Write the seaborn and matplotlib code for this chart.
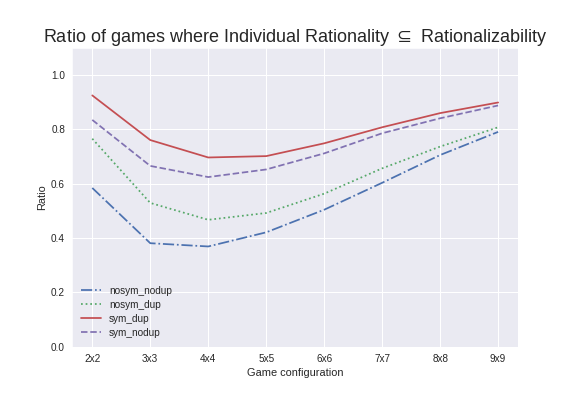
import matplotlib
matplotlib.use("Agg")
import matplotlib.pyplot as plt
import seaborn as sns
import pandas as pd

# game sizes on the x axis
configs = ["2x2", "3x3", "4x4", "5x5", "6x6", "7x7", "8x8", "9x9"]

# ratio per configuration
nosym_nodup = [0.584, 0.381, 0.369, 0.421, 0.504, 0.603, 0.705, 0.790]
nosym_dup = [0.765, 0.529, 0.467, 0.492, 0.563, 0.656, 0.736, 0.807]
sym_dup = [0.924, 0.760, 0.696, 0.701, 0.748, 0.807, 0.859, 0.898]
sym_nodup = [0.834, 0.665, 0.624, 0.652, 0.711, 0.785, 0.840, 0.887]

series_names = ["nosym_nodup", "nosym_dup", "sym_dup", "sym_nodup"]
series_values = [nosym_nodup, nosym_dup, sym_dup, sym_nodup]
colors = ["#4C72B0", "#55A868", "#C44E52", "#8172B2"]
styles = ["-.", ":", "-", "--"]

sns.set_style("darkgrid")
plt.rcParams["font.family"] = ["Liberation Sans", "DejaVu Sans"]
plt.rcParams["grid.linewidth"] = 1.0

rows = []
for name, vals in zip(series_names, series_values):
    for i, v in enumerate(vals):
        rows.append({"pos": i, "config": configs[i], "ratio": v, "series": name})
df = pd.DataFrame(rows)

fig, ax = plt.subplots(figsize=(8, 5.5), dpi=72)
fig.subplots_adjust(left=0.125, right=0.9, bottom=0.124, top=0.88)

for name, color, ls in zip(series_names, colors, styles):
    sub = df[df["series"] == name]
    sns.lineplot(data=sub, x="pos", y="ratio", ax=ax, color=color,
                 linestyle=ls, linewidth=1.75, label=name)

ax.set_xticks(range(len(configs)))
ax.set_xticklabels(configs, fontsize=10)
ax.set_xlim(-0.35, len(configs) - 1 + 0.35)
ax.set_ylim(0, 1.1)
ax.set_yticks([0.0, 0.2, 0.4, 0.6, 0.8, 1.0])
ax.set_yticklabels(["0.0", "0.2", "0.4", "0.6", "0.8", "1.0"], fontsize=10)
ax.tick_params(length=0, pad=7)

ax.set_xlabel("Game configuration", fontsize=11)
ax.set_ylabel("Ratio", fontsize=11)
ax.set_title("Ratio of games where Individual Rationality $\\subseteq$ Rationalizability",
             fontsize=18)

ax.legend(loc="lower left", frameon=False, fontsize=10, labelspacing=0.4)

fig.savefig("out.png", dpi=72)
